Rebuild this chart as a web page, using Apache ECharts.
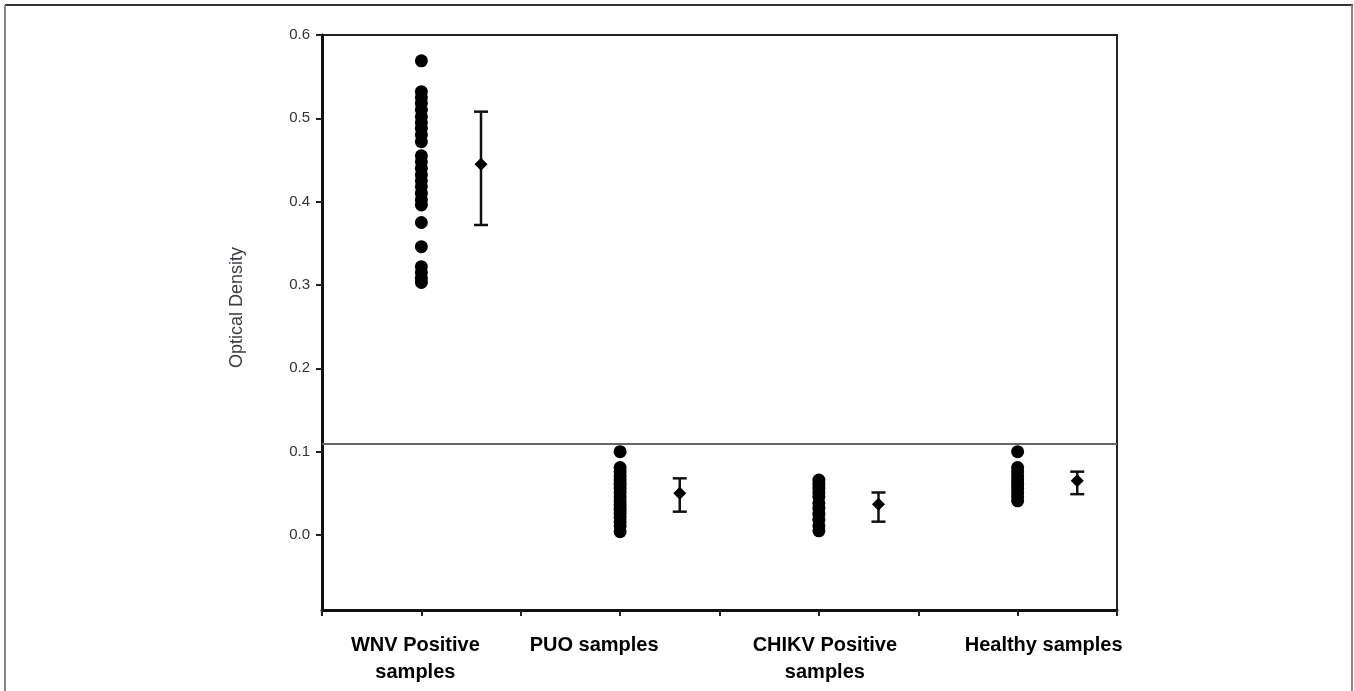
<!DOCTYPE html>
<html>
<head>
<meta charset="utf-8">
<script src="https://cdn.jsdelivr.net/npm/echarts@6/dist/echarts.min.js"></script>
<style>
  html, body { margin: 0; padding: 0; background: #fff; }
  #od_chart { width: 1354px; height: 691px; }
</style>
</head>
<body>
<div id="od_chart"></div>
<script>
// groups along the x axis
var groups = ['WNV Positive\nsamples', 'PUO samples', 'CHIKV Positive\nsamples', 'Healthy samples'];
// x position (axis units) of each group's dots and its mean/error bar
var dotX = [1, 3, 5, 7];
var barX = [1.6, 3.6, 5.6, 7.6];

// optical density of each sample
var wnvValues = [0.569, 0.532, 0.525, 0.518, 0.51, 0.502, 0.495, 0.488, 0.48, 0.472, 0.455, 0.448, 0.44, 0.432, 0.425, 0.418, 0.41, 0.402, 0.396, 0.375, 0.346, 0.322, 0.315, 0.308, 0.303];
var puoValues = [0.1, 0.081, 0.076, 0.071, 0.066, 0.061, 0.056, 0.051, 0.046, 0.041, 0.036, 0.031, 0.026, 0.021, 0.016, 0.011, 0.004];
var chikvValues = [0.066, 0.061, 0.056, 0.051, 0.046, 0.038, 0.032, 0.025, 0.018, 0.011, 0.005];
var healthyValues = [0.1, 0.081, 0.076, 0.071, 0.066, 0.061, 0.056, 0.051, 0.046, 0.041];

// mean and error bar ends
var means = [0.445, 0.05, 0.037, 0.065];
var errLow = [0.372, 0.028, 0.016, 0.049];
var errHigh = [0.508, 0.068, 0.051, 0.076];

var cutoff = 0.112;
var yTicks = [0.0, 0.1, 0.2, 0.3, 0.4, 0.5, 0.6];

var allValues = [wnvValues, puoValues, chikvValues, healthyValues];
var dots = [];
for (var i = 0; i < allValues.length; i++) {
    for (var j = 0; j < allValues[i].length; j++) {
        dots.push([dotX[i], allValues[i][j]]);
    }
}
var meanPts = [];
var bars = [];
for (var k = 0; k < means.length; k++) {
    meanPts.push([barX[k], means[k]]);
    bars.push([barX[k], errLow[k], errHigh[k]]);
}

// label shift (px) so the text sits like the original
var labelShift = [-6, -26, 6, 26];

var myChart = echarts.init(document.getElementById('od_chart'));
var option = {
    animation: false,
    backgroundColor: '#fff',
    graphic: [
        { type: 'line', shape: { x1: 5, y1: 5, x2: 1353, y2: 5 }, style: { stroke: '#333', lineWidth: 2 } },
        { type: 'line', shape: { x1: 5, y1: 5, x2: 5, y2: 691 }, style: { stroke: '#888', lineWidth: 2 } },
        { type: 'line', shape: { x1: 1352, y1: 5, x2: 1352, y2: 691 }, style: { stroke: '#888', lineWidth: 2 } }
    ],
    grid: {
        left: 322, right: 237, top: 35, bottom: 81,
        show: true, borderColor: '#222', borderWidth: 2
    },
    xAxis: {
        type: 'value', min: 0, max: 8, interval: 1,
        splitLine: { show: false },
        axisLine: { onZero: false, lineStyle: { color: '#111', width: 3 } },
        axisTick: { length: 6, lineStyle: { color: '#222', width: 2 } },
        axisLabel: {
            margin: 22,
            formatter: function (v) {
                var idx = dotX.indexOf(v);
                if (idx < 0) return '';
                var s = labelShift[idx];
                var st = s < 0 ? 'l' + (-s) : 'r' + s;
                return groups[idx].split('\n').map(function (t) { return '{' + st + '|' + t + '}'; }).join('\n');
            },
            rich: {
                l6: { padding: [0, 12, 0, 0], fontSize: 20, fontWeight: 'bold', fontFamily: 'Liberation Sans', color: '#000', lineHeight: 27 },
                l26: { padding: [0, 52, 0, 0], fontSize: 20, fontWeight: 'bold', fontFamily: 'Liberation Sans', color: '#000', lineHeight: 27 },
                r6: { padding: [0, 0, 0, 12], fontSize: 20, fontWeight: 'bold', fontFamily: 'Liberation Sans', color: '#000', lineHeight: 27 },
                r26: { padding: [0, 0, 0, 52], fontSize: 20, fontWeight: 'bold', fontFamily: 'Liberation Sans', color: '#000', lineHeight: 27 }
            }
        }
    },
    yAxis: {
        type: 'value', min: -0.09, max: 0.6,
        splitNumber: 7,
        name: 'Optical Density',
        nameLocation: 'middle',
        nameGap: 76,
        nameTextStyle: { fontSize: 18, fontFamily: 'Liberation Sans', color: '#3c3c4a', padding: [0, 0, 0, 30] },
        splitLine: { show: false },
        axisLine: { lineStyle: { color: '#111', width: 3 } },
        axisTick: { length: 6, lineStyle: { color: '#222', width: 2 } },
        axisLabel: {
            showMinLabel: false,
            margin: 12,
            fontSize: 15,
            fontFamily: 'Liberation Sans',
            color: '#333',
            formatter: function (v) {
                for (var t = 0; t < yTicks.length; t++) {
                    if (Math.abs(yTicks[t] - v) < 1e-6) return yTicks[t].toFixed(1);
                }
                return '';
            }
        }
    },
    series: [
        {
            name: 'samples',
            type: 'scatter',
            symbol: 'circle',
            symbolSize: 13,
            itemStyle: { color: '#000', opacity: 1 },
            data: dots,
            markLine: {
                silent: true,
                symbol: ['none', 'none'],
                label: { show: false },
                lineStyle: { color: '#666', width: 2, type: 'solid' },
                data: [{ yAxis: cutoff }]
            }
        },
        {
            name: 'error',
            type: 'custom',
            renderItem: function (params, api) {
                var x = api.value(0);
                var lo = api.coord([x, api.value(1)]);
                var hi = api.coord([x, api.value(2)]);
                var w = 7;
                var style = { stroke: '#111', lineWidth: 2.5 };
                return {
                    type: 'group',
                    children: [
                        { type: 'line', shape: { x1: lo[0], y1: lo[1], x2: hi[0], y2: hi[1] }, style: style },
                        { type: 'line', shape: { x1: lo[0] - w, y1: lo[1], x2: lo[0] + w, y2: lo[1] }, style: style },
                        { type: 'line', shape: { x1: hi[0] - w, y1: hi[1], x2: hi[0] + w, y2: hi[1] }, style: style }
                    ]
                };
            },
            encode: { x: 0, y: [1, 2] },
            data: bars,
            z: 3
        },
        {
            name: 'mean',
            type: 'scatter',
            symbol: 'diamond',
            symbolSize: 13,
            itemStyle: { color: '#000', opacity: 1 },
            data: meanPts,
            z: 4
        }
    ]
};
myChart.setOption(option);
</script>
</body>
</html>
